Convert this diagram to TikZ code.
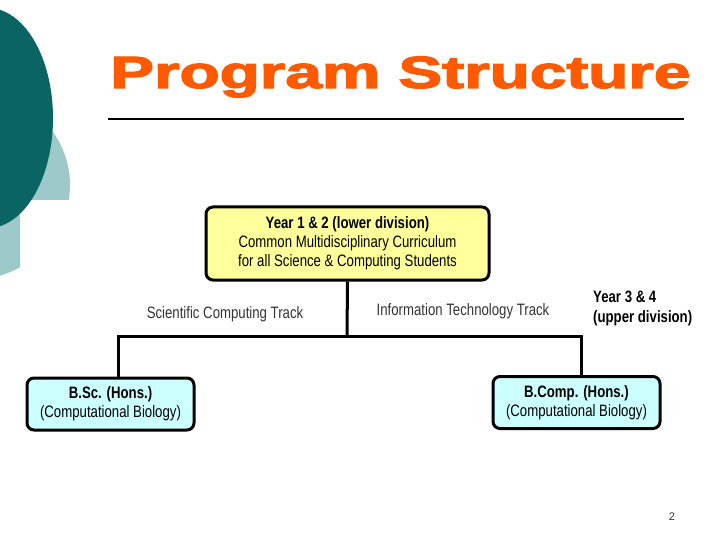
\documentclass[tikz,border=0pt]{standalone}
\usepackage{fontspec}
\setmainfont{Liberation Sans}
\newfontfamily\narrowfont[FakeStretch=0.8]{Liberation Sans}
\newfontfamily\titlefont[FakeBold=2.5]{Liberation Sans Bold}
\definecolor{darkteal}{HTML}{0B6464}
\definecolor{lightteal}{HTML}{9DC9CB}
\definecolor{titleorange}{HTML}{FF5A00}
\definecolor{boxyellow}{HTML}{FFFF9C}
\definecolor{boxcyan}{HTML}{CCFFFF}
\definecolor{textgray}{HTML}{333333}
\tikzset{
  boxbase/.style={draw=black, line width=3pt, rounded corners=7pt, align=center,
    font=\narrowfont\fontsize{16.5}{20}\selectfont, inner sep=0pt},
  topbox/.style={boxbase, fill=boxyellow, minimum width=283pt, minimum height=73pt},
  degbox/.style={boxbase, fill=boxcyan, minimum width=167pt, minimum height=52pt},
  tracklabel/.style={font=\narrowfont\fontsize{16.5}{20}\selectfont, text=textgray, inner sep=0pt},
  connector/.style={line width=3pt, draw=black}
}
\begin{document}
\begin{tikzpicture}[x=1pt,y=-1pt]
\useasboundingbox (0,0) rectangle (720,540);
% left decoration
\begin{scope}
  \clip (0,0) -- (90,0) -- (90,200) -- (20,200) -- (20,300) -- (0,300) -- cycle;
  \fill[lightteal] (-30,185) ellipse [x radius=100pt, y radius=95pt];
\end{scope}
\fill[darkteal] (-12,118) ellipse [x radius=65pt, y radius=110pt];
% title
\node[inner sep=0pt, anchor=base west, text=titleorange] (title) at (110,88)
  {\resizebox{580pt}{31.5pt}{\titlefont Program Structure}};
\coordinate (ruleL) at (108,119);
\coordinate (ruleR) at (684,119);
\draw[line width=2pt] (ruleL) -- (ruleR);
% boxes
\node[topbox] (top) at (347.5,243.5)
  {\textbf{Year 1 \& 2 (lower division)}\\[-1pt]Common Multidisciplinary Curriculum\\[-1pt]for all Science \& Computing Students};
\node[degbox] (left) at (110.5,404)
  {\textbf{B.Sc. (Hons.)}\\[-1pt](Computational Biology)};
\node[degbox] (right) at (576.5,402.5)
  {\textbf{B.Comp. (Hons.)}\\[-1pt](Computational Biology)};
% connectors
\coordinate (j) at (347,336);
\draw[connector] (top.south) -- (j);
\draw[connector] (j) -| ([xshift=7.5pt]left.north);
\draw[connector] (j) -| ([xshift=5pt]right.north);
% labels
\node[tracklabel] (sct) at (225,314) {Scientific Computing Track};
\node[tracklabel] (itt) at (463,311) {Information Technology Track};
\node[tracklabel, text=black, anchor=west, align=left, font=\narrowfont\bfseries\fontsize{16.5}{20}\selectfont] (yr34) at (593,308)
  {Year 3 \& 4\\(upper division)};
\node[font=\fontsize{11}{13}\selectfont, text=textgray] (pg) at (672,517) {2};
\end{tikzpicture}
\end{document}
